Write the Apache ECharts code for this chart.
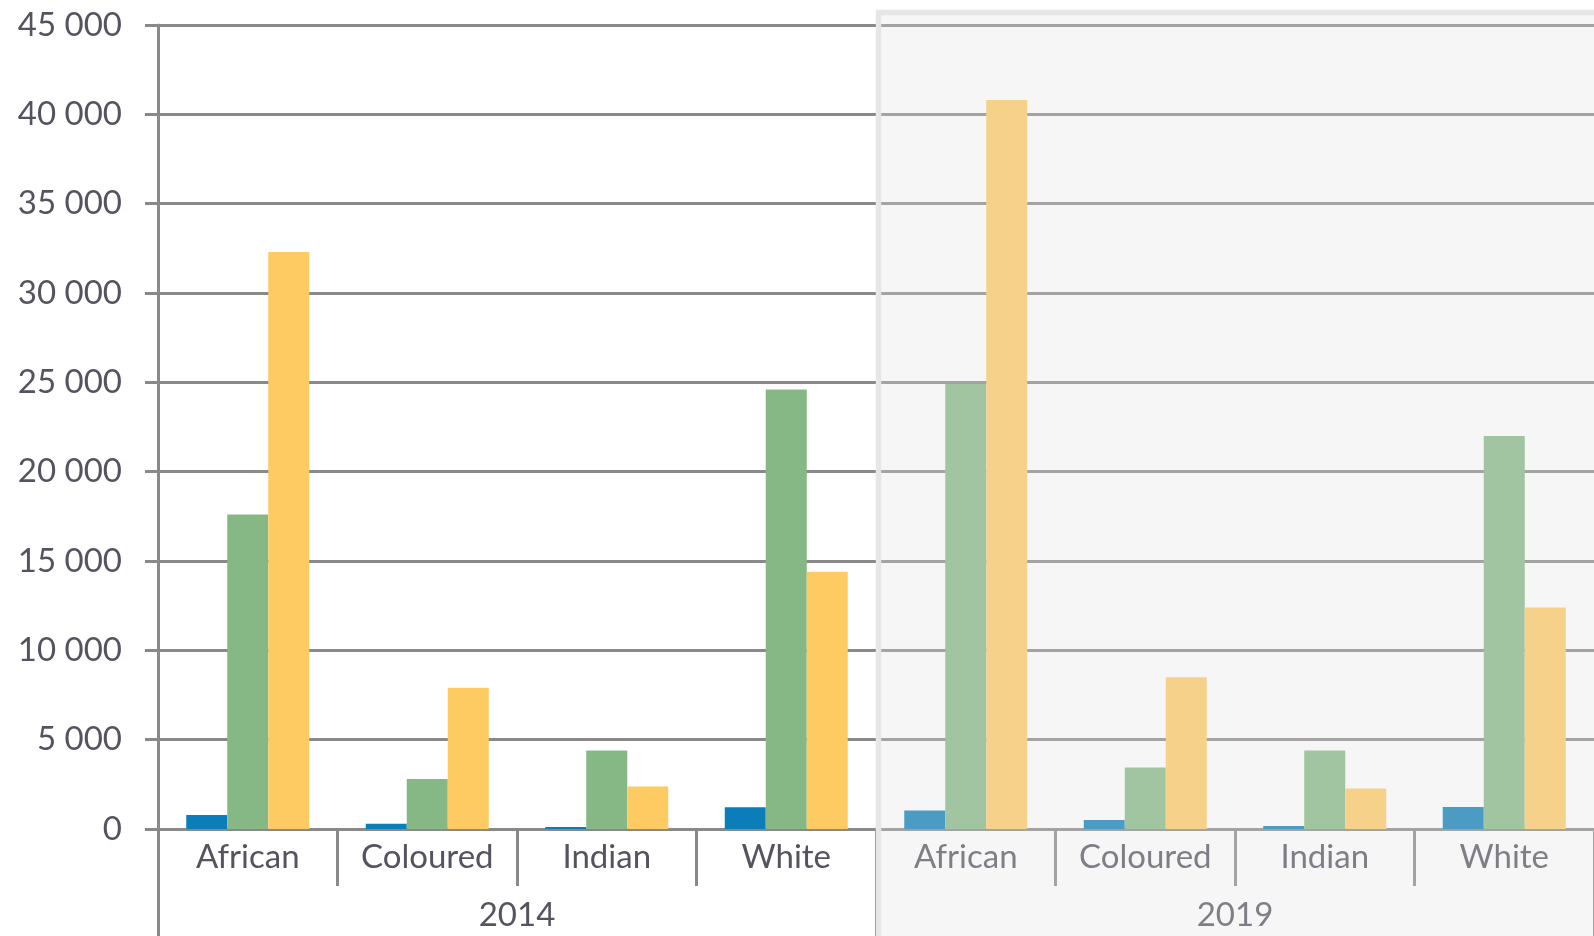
<!DOCTYPE html>
<html>
<head>
<meta charset="utf-8">
<script src="https://cdn.jsdelivr.net/npm/echarts@6/dist/echarts.min.js"></script>
<style>
html,body{margin:0;padding:0;background:#fff;}
#chart{width:1594px;height:936px;}
</style>
</head>
<body>
<div id="chart"></div>
<script>
// ---- data ----
const groups = ['African', 'Coloured', 'Indian', 'White'];
const years = ['2014', '2019'];
const yTicks = { min: 0, max: 45000, interval: 5000 };
// values per year, in order of groups
const blue2014 = [780, 290, 110, 1220];
const blue2019 = [1030, 500, 170, 1230];
const green2014 = [17600, 2800, 4400, 24600];
const green2019 = [24900, 3440, 4400, 22000];
const yellow2014 = [32300, 7900, 2380, 14400];
const yellow2019 = [40800, 8500, 2270, 12400];

const categories = years.flatMap(() => groups);
const blueValues = blue2014.concat(blue2019);
const greenValues = green2014.concat(green2019);
const yellowValues = yellow2014.concat(yellow2019);

const axisGrey = '#898989';
const textGrey = '#545460';
const fontFamily = 'Lato, "Open Sans", sans-serif';
const fontSize = 33;

const chart = echarts.init(document.getElementById('chart'));

function fmt(v) {
  return String(v).replace(/\B(?=(\d{3})+(?!\d))/g, ' ');
}

chart.setOption({
  backgroundColor: '#ffffff',
  animation: false,
  grid: { left: 158, right: -3, top: 25, bottom: 107, containLabel: false },
  xAxis: [
    {
      type: 'category',
      data: categories,
      position: 'bottom',
      axisLine: { show: true, lineStyle: { color: axisGrey, width: 3 } },
      axisTick: { show: true, interval: 0, length: 57, lineStyle: { color: axisGrey, width: 3 } },
      axisLabel: { interval: 0, margin: 12, color: textGrey, fontSize: fontSize, fontFamily: fontFamily },
      splitLine: { show: false }
    },
    {
      type: 'category',
      data: years,
      position: 'bottom',
      axisLine: { show: false },
      axisTick: { show: true, interval: 0, length: 112, lineStyle: { color: axisGrey, width: 3 } },
      axisLabel: { interval: 0, margin: 70, color: textGrey, fontSize: fontSize, fontFamily: fontFamily },
      splitLine: { show: false }
    }
  ],
  yAxis: {
    type: 'value',
    min: yTicks.min,
    max: yTicks.max,
    interval: yTicks.interval,
    axisLine: { show: true, lineStyle: { color: axisGrey, width: 3 } },
    axisTick: { show: true, length: 13, lineStyle: { color: axisGrey, width: 3 } },
    axisLabel: { margin: 36, color: textGrey, fontSize: fontSize, fontFamily: fontFamily, formatter: fmt },
    splitLine: { show: true, lineStyle: { color: axisGrey, width: 3 } }
  },
  series: [
    { name: 'Blue', type: 'bar', xAxisIndex: 0, data: blueValues, barWidth: 41, barGap: '0%', itemStyle: { color: '#0b7db8' } },
    { name: 'Green', type: 'bar', xAxisIndex: 0, data: greenValues, barWidth: 41, barGap: '0%', itemStyle: { color: '#86b886' } },
    { name: 'Yellow', type: 'bar', xAxisIndex: 0, data: yellowValues, barWidth: 41, barGap: '0%', itemStyle: { color: '#fecb63' } }
  ]
});

// overlay shading the second period
const pA = chart.convertToPixel({ xAxisIndex: 0 }, groups.length - 1);
const pB = chart.convertToPixel({ xAxisIndex: 0 }, groups.length);
const split = (pA + pB) / 2;
chart.setOption({
  graphic: [
    {
      type: 'rect',
      z: 100,
      silent: true,
      shape: { x: split + 2.5, y: 12.5, width: 3000, height: 3000 },
      style: { fill: 'rgba(226,226,226,0.3)', stroke: '#e6e6e6', lineWidth: 5.5 }
    }
  ]
});
</script>
</body>
</html>
